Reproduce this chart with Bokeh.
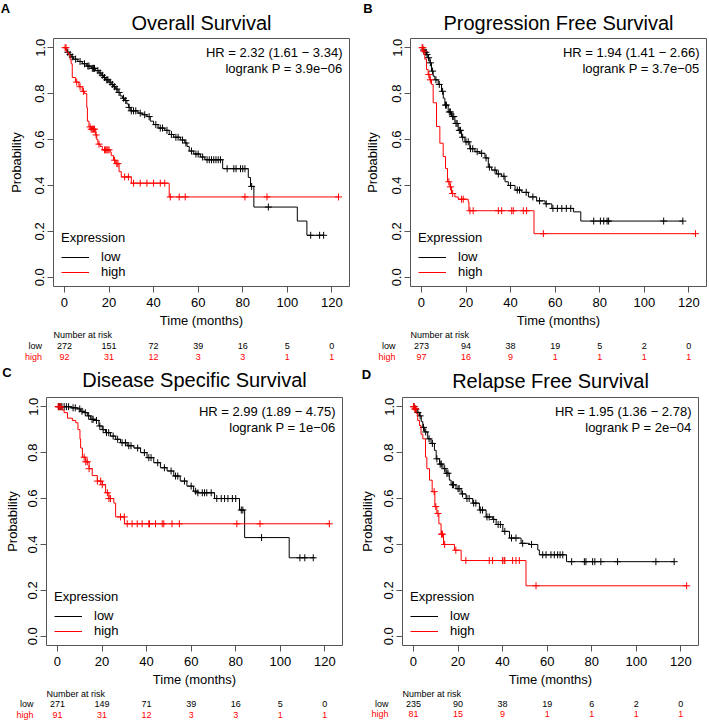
import numpy as np
from bokeh.plotting import figure
from bokeh.layouts import row, column
from bokeh.core.properties import value
from bokeh.models import (Range1d, FixedTicker, NumeralTickFormatter, Label, Legend, LegendItem)
from bokeh.embed import file_html
from bokeh.resources import INLINE

try:
    from bokeh.models import GlobalInlineStyleSheet
    PAGE_CSS = [GlobalInlineStyleSheet(css="body { margin: 0 !important; }")]
except Exception:
    PAGE_CSS = []

# ---------------- data ----------------
MONTH_TICKS = [0, 20, 40, 60, 80, 100, 120]
PROB_TICKS = [0.0, 0.2, 0.4, 0.6, 0.8, 1.0]

# A: Overall Survival
os_low_t = [0, 0.5, 1.2, 2, 3, 4, 6, 8, 10, 12, 14, 15.5, 16.5, 17.5, 18.5, 20, 21, 22, 23, 24, 25, 26, 27, 28,
            28.8, 29.5, 33, 35, 37, 38.5, 40, 42, 45, 47, 49, 52, 54, 55, 56, 58, 61, 63, 71, 82.5, 83.5, 85,
            104.5, 108.8]
os_low_s = [1.0, 0.99, 0.98, 0.97, 0.96, 0.95, 0.94, 0.93, 0.92, 0.91, 0.90, 0.89, 0.88, 0.87, 0.86, 0.85, 0.84,
            0.83, 0.82, 0.805, 0.79, 0.78, 0.77, 0.755, 0.74, 0.725, 0.715, 0.708, 0.70, 0.68, 0.665, 0.65, 0.64,
            0.622, 0.61, 0.598, 0.585, 0.57, 0.55, 0.537, 0.524, 0.512, 0.473, 0.435, 0.396, 0.306, 0.245, 0.183]
os_low_end = 116.3
os_low_cens = [1.5, 2.5, 3.5, 5, 7, 9, 10.5, 11, 12.5, 13, 13.5, 15, 16, 17, 18, 19, 19.5, 20.5, 21.5, 22.5, 23.5,
               24.5, 26.5, 27.5, 29, 30, 31, 32, 34, 36, 38, 41, 43, 44, 46, 48, 50, 51, 53, 54.5, 57, 59, 60, 62,
               64, 65, 66, 67, 68, 69, 70, 73, 76, 77, 79, 80, 81, 84, 91.5, 110.5, 114.5, 116.3]
os_high_t = [0, 1, 1.8, 2.5, 3, 3.5, 5, 6.5, 8, 9, 10, 10.3, 11, 12, 14, 14.5, 15, 16, 17, 20.5, 21, 22, 23, 24.5,
             25.5, 30, 47]
os_high_s = [1.0, 0.98, 0.97, 0.95, 0.93, 0.87, 0.85, 0.83, 0.81, 0.80, 0.74, 0.68, 0.655, 0.645, 0.62, 0.60, 0.58,
             0.57, 0.555, 0.545, 0.53, 0.51, 0.495, 0.46, 0.437, 0.41, 0.35]
os_high_end = 123
os_high_cens = [0.3, 0.7, 5.5, 7, 8.5, 11.5, 12, 12.5, 13, 13.5, 14.2, 15.5, 18, 18.5, 19, 19.5, 20, 22.5, 23.5, 24,
                27, 28.7, 31, 34, 37, 40, 43, 45, 47.5, 51.5, 54.2, 81, 90.9, 123]
os_risk_low = [272, 151, 72, 39, 16, 5, 0]
os_risk_high = [92, 31, 12, 3, 3, 1, 1]
os_hr = ["HR = 2.32 (1.61 \u2212 3.34)", "logrank P = 3.9e\u221206"]

# B: Progression Free Survival
pfs_low_t = [0, 0.75, 1.5, 2.2, 3, 3.75, 4.5, 5.25, 6, 7.5, 9, 9.8, 10.5, 12, 13.5, 15, 16.5, 18, 19.5, 21.7, 24,
             26.2, 28.5, 30, 31.5, 33.7, 36, 37.5, 39, 42, 45, 48, 51.7, 55.5, 58.5, 68.2, 71.5]
pfs_low_s = [1.0, 0.99, 0.98, 0.97, 0.956, 0.934, 0.898, 0.876, 0.86, 0.84, 0.81, 0.78, 0.75, 0.72, 0.70, 0.67,
             0.64, 0.61, 0.59, 0.56, 0.547, 0.54, 0.52, 0.48, 0.467, 0.45, 0.44, 0.416, 0.40, 0.38, 0.37, 0.35,
             0.333, 0.32, 0.30, 0.285, 0.245]
pfs_low_end = 117.3
pfs_low_cens = [1, 2, 2.5, 3.2, 4, 5, 6.5, 8, 9.5, 10.8, 11.2, 12.5, 13, 14, 14.5, 15.5, 16, 17, 17.5, 18.5, 20, 21,
                22, 23, 25, 27, 29, 30.5, 33, 34.5, 37, 40, 43, 44, 47, 50, 53, 56, 59, 61, 63, 65, 67, 77.3, 80.3,
                81.8, 83.3, 84, 108.7, 117.3]
pfs_high_t = [0, 0.75, 1.5, 2.25, 3, 3.75, 4.5, 5.25, 6.75, 8.25, 9.75, 10.8, 11.7, 12.75, 13.5, 15, 16.5, 21, 21.3,
              50.5]
pfs_high_s = [1.0, 0.985, 0.95, 0.905, 0.883, 0.86, 0.84, 0.76, 0.657, 0.584, 0.526, 0.474, 0.416, 0.394, 0.365,
              0.35, 0.34, 0.328, 0.29, 0.19]
pfs_high_end = 123
pfs_high_cens = [0.3, 0.6, 1, 3.3, 4, 12.3, 13, 14, 18, 18.75, 21.75, 23.2, 34.5, 36, 40.5, 41.2, 45.7, 47.2, 54.7,
                 123]
pfs_risk_low = [273, 94, 38, 19, 5, 2, 0]
pfs_risk_high = [97, 16, 9, 1, 1, 1, 1]
pfs_hr = ["HR = 1.94 (1.41 \u2212 2.66)", "logrank P = 3.7e\u221205"]

# C: Disease Specific Survival
dss_low_t = [0, 6, 9, 10.4, 11.9, 13.4, 14.9, 17.1, 18.6, 20.1, 21.6, 23.8, 26.1, 28.3, 31.3, 34.3, 37.3, 40.2, 43.2,
             46.2, 49.2, 52.2, 55.1, 58.1, 61.1, 62.6, 70.5, 81.7, 84, 104]
dss_low_s = [1.0, 0.995, 0.99, 0.98, 0.974, 0.96, 0.945, 0.94, 0.916, 0.90, 0.887, 0.872, 0.858, 0.843, 0.83, 0.82,
             0.80, 0.778, 0.756, 0.734, 0.72, 0.698, 0.676, 0.654, 0.632, 0.625, 0.60, 0.55, 0.43, 0.342]
dss_low_end = 115.5
dss_low_cens = [0.5, 1, 1.5, 2, 3, 4, 5, 7, 8, 10, 11, 12.5, 14, 15.5, 16, 17.5, 19, 20.5, 22, 23, 25, 27, 29, 30.5,
                32, 33, 36, 39, 41, 42, 45, 48, 51, 53, 54, 57, 60, 62, 63, 65, 66, 67, 69, 71.5, 73.5, 75, 76.5,
                78.5, 80, 82.5, 83.2, 91.6, 108.8, 111, 114.8]
dss_high_t = [0, 2.2, 3, 4.5, 6.7, 8.2, 9.2, 10.1, 10.4, 11.2, 12.7, 14.2, 15.6, 17.9, 20.1, 21.6, 23.1, 25.3, 26.1,
              30.1]
dss_high_s = [1.0, 0.985, 0.974, 0.95, 0.94, 0.93, 0.90, 0.86, 0.82, 0.78, 0.76, 0.73, 0.70, 0.676, 0.66, 0.625,
              0.60, 0.58, 0.52, 0.49]
dss_high_end = 122
dss_high_cens = [0.3, 0.8, 1.5, 12, 12.7, 13.4, 14.2, 17.9, 19.4, 20.1, 22.4, 23.1, 23.8, 28.3, 30, 31.3, 33.5, 35.8,
                 38, 41, 41.3, 44, 47, 47.7, 51.4, 54.7, 80.5, 90.9, 122]
dss_risk_low = [271, 149, 71, 39, 16, 5, 0]
dss_risk_high = [91, 31, 12, 3, 3, 1, 1]
dss_hr = ["HR = 2.99 (1.89 \u2212 4.75)", "logrank P = 1e\u221206"]

# D: Relapse Free Survival
rfs_low_t = [0, 0.5, 1.5, 2.7, 3.5, 4.2, 4.9, 6.4, 7.9, 9.4, 10.2, 11.7, 13.2, 14.6, 16.1, 16.9, 19.1, 21.4, 23.6,
             26.6, 29.6, 32.6, 35.6, 37.1, 40.1, 43.1, 48.3, 52, 55.8, 56.5, 68.7]
rfs_low_s = [1.0, 0.99, 0.975, 0.96, 0.935, 0.91, 0.89, 0.86, 0.84, 0.81, 0.773, 0.75, 0.73, 0.71, 0.68, 0.66,
             0.643, 0.62, 0.60, 0.58, 0.55, 0.52, 0.509, 0.487, 0.457, 0.428, 0.405, 0.40, 0.376, 0.355, 0.325]
rfs_low_end = 117
rfs_low_cens = [0.3, 1, 2, 3, 4.5, 5.5, 7, 8.5, 10.5, 12, 12.5, 14, 15, 15.5, 17.5, 18, 20, 20.5, 22, 24, 25, 27, 28,
                30, 31, 33, 34, 36, 38, 39, 41, 44, 46, 49, 53, 58, 59.5, 61.7, 63.2, 64.7, 65.8, 67, 71, 76.7, 77.4,
                80.4, 81.4, 84.1, 91.6, 108.8, 117]
rfs_high_t = [0, 0.5, 1.2, 1.9, 2.7, 3.4, 4.2, 5.4, 6, 7.2, 8.4, 9.6, 10.5, 11.4, 12.4, 13.5, 18.4, 21.4, 50.5]
rfs_high_s = [1.0, 0.99, 0.97, 0.94, 0.918, 0.88, 0.86, 0.78, 0.73, 0.68, 0.63, 0.565, 0.535, 0.49, 0.445, 0.40,
              0.375, 0.33, 0.22]
rfs_high_end = 122.6
rfs_high_cens = [0, 0.3, 0.6, 1, 9.3, 10, 11, 12.6, 13, 14, 19, 23.5, 34, 35.5, 40, 40.7, 41, 44.5, 46, 47.5, 55,
                 122.6]
rfs_risk_low = [235, 90, 38, 19, 6, 2, 0]
rfs_risk_high = [81, 15, 9, 1, 1, 1, 1]
rfs_hr = ["HR = 1.95 (1.36 \u2212 2.78)", "logrank P = 2e\u221204"]

# ---------------- layout / style ----------------
FONT = "Liberation Sans"
RED = "#FF0000"
BLACK = "#000000"
BOX = "#555555"
X0, X1 = -4.92, 127.92
Y0, Y1 = -0.04, 1.04
FW, FH = 296, 248
PPX = FW / (X1 - X0)
PPY = FH / (Y1 - Y0)
BOTTOM = 43


def surv_at(ts, ss, t):
    idx = np.searchsorted(np.asarray(ts), np.asarray(t), side="right") - 1
    return np.asarray(ss)[idx]


def blank(height_px, bl, br):
    """strip whose x scale matches the main plot (frame spans the whole strip), y in px from the top"""
    f = figure(frame_width=bl + FW + br, frame_height=height_px,
               x_range=Range1d(X0 - bl / PPX, X1 + br / PPX), y_range=Range1d(height_px, 0),
               output_backend="svg", toolbar_location=None, x_axis_location=None, y_axis_location=None,
               min_border_left=0, min_border_right=0, min_border_top=0, min_border_bottom=0)
    f.grid.visible = False
    f.outline_line_color = None
    f.background_fill_color = "white"
    f.border_fill_color = "white"
    return f


def header(title, letter, bl, br, height, letter_xy, title_mid):
    h = blank(height, bl, br)
    lx, ly = letter_xy
    h.text(x=[X0 - bl / PPX + lx / PPX], y=[ly], text=[letter], text_align="center",
           text_baseline="middle", text_font=value(FONT), text_font_size="13px",
           text_font_style="bold", text_color="black")
    h.text(x=[(X0 + X1) / 2], y=[title_mid], text=[title], text_align="center",
           text_baseline="middle", text_font=value(FONT), text_font_size="20px", text_color="black")
    return h


def km_plot(low, high, hr, bl, br, ylab_gap):
    p = figure(frame_width=FW, frame_height=FH, x_range=Range1d(X0, X1), y_range=Range1d(Y0, Y1),
               output_backend="svg", toolbar_location=None,
               min_border_left=bl, min_border_right=br, min_border_top=1, min_border_bottom=BOTTOM,
               x_axis_label="Time (months)", y_axis_label="Probability")
    p.grid.visible = False
    p.background_fill_color = "white"
    p.border_fill_color = "white"
    p.outline_line_color = BOX
    p.outline_line_width = 1

    p.xaxis.ticker = FixedTicker(ticks=MONTH_TICKS)
    p.yaxis.ticker = FixedTicker(ticks=PROB_TICKS)
    p.yaxis.formatter = NumeralTickFormatter(format="0.0")
    p.yaxis.major_label_orientation = "vertical"
    for ax in (p.xaxis, p.yaxis):
        ax.axis_line_color = None
        ax.major_tick_in = 0
        ax.major_tick_out = 6
        ax.major_tick_line_color = BOX
        ax.minor_tick_line_color = None
        ax.major_label_text_font = FONT
        ax.major_label_text_font_size = "13px"
        ax.major_label_text_color = "black"
        ax.axis_label_text_font = FONT
        ax.axis_label_text_font_size = "13px"
        ax.axis_label_text_font_style = "normal"
        ax.axis_label_text_color = "black"
    p.xaxis.major_label_standoff = 5
    p.yaxis.major_label_standoff = 3
    p.xaxis.axis_label_standoff = 3
    p.yaxis.axis_label_standoff = ylab_gap

    rends = []
    for (ts, ss, tend, cens), col in ((low, BLACK), (high, RED)):
        xs = list(ts) + [tend]
        ys = list(ss) + [ss[-1]]
        r = p.step(xs, ys, mode="after", line_color=col, line_width=1)
        p.scatter(cens, surv_at(ts, ss, cens), marker="cross", size=7, line_color=col, line_width=1)
        rends.append(r)

    leg = Legend(items=[LegendItem(label="low", renderers=[rends[0]]),
                        LegendItem(label="high", renderers=[rends[1]])],
                 title="Expression", location=(8, 7), margin=0, padding=0, spacing=0,
                 glyph_width=28, glyph_height=14, label_height=14, label_standoff=12,
                 title_standoff=4, border_line_color=None, background_fill_alpha=0,
                 label_text_font=FONT, label_text_font_size="13px", label_text_color="black",
                 title_text_font=FONT, title_text_font_size="13px", title_text_font_style="normal",
                 title_text_color="black")
    p.add_layout(leg)

    for i, line in enumerate(hr):
        p.add_layout(Label(x=X1 - 7 / PPX, y=Y1 - (14 + 16 * i) / PPY, text=line, text_align="right",
                           text_baseline="middle", text_font=FONT, text_font_size="13px", text_color="black"))
    return p


def risk_table(risk_low, risk_high, bl, br, height, top, step, lab_dx):
    t = blank(height, bl, br)
    t.text(x=[X0], y=[top], text=["Number at risk"], text_align="left", text_baseline="middle",
           text_font=value(FONT), text_font_size="9px", text_color="black")
    for k, (lab, vals, col) in enumerate((("low", risk_low, BLACK), ("high", risk_high, RED))):
        yy = top + step * (k + 1)
        t.text(x=[X0 - lab_dx / PPX], y=[yy], text=[lab], text_align="right", text_baseline="middle",
               text_font=value(FONT), text_font_size="9px", text_color=col)
        t.text(x=MONTH_TICKS, y=[yy] * len(MONTH_TICKS), text=[str(v) for v in vals], text_align="center",
               text_baseline="middle", text_font=value(FONT), text_font_size="9px", text_color=col)
    return t


# borders (left, right) of each panel
GA, GB, GC, GD = (53, 6), (55, 3), (46, 13), (47, 11)

hA = header("Overall Survival", "A", *GA, 37, (5, 7.5), 22.5)
hB = header("Progression Free Survival", "B", *GB, 37, (12.5, 7.5), 22.5)
pA = km_plot((os_low_t, os_low_s, os_low_end, os_low_cens), (os_high_t, os_high_s, os_high_end, os_high_cens),
             os_hr, *GA, 9)
pB = km_plot((pfs_low_t, pfs_low_s, pfs_low_end, pfs_low_cens),
             (pfs_high_t, pfs_high_s, pfs_high_end, pfs_high_cens), pfs_hr, *GB, 10)
tA = risk_table(os_risk_low, os_risk_high, *GA, 33, 4, 11, 11.5)
tB = risk_table(pfs_risk_low, pfs_risk_high, *GB, 33, 4, 11, 15)

hC = header("Disease Specific Survival", "C", *GC, 33, (6.5, 9), 16.5)
hD = header("Relapse Free Survival", "D", *GD, 33, (11, 11), 17)
pC = km_plot((dss_low_t, dss_low_s, dss_low_end, dss_low_cens),
             (dss_high_t, dss_high_s, dss_high_end, dss_high_cens), dss_hr, *GC, 6)
pD = km_plot((rfs_low_t, rfs_low_s, rfs_low_end, rfs_low_cens),
             (rfs_high_t, rfs_high_s, rfs_high_end, rfs_high_cens), rfs_hr, *GD, 7)
tC = risk_table(dss_risk_low, dss_risk_high, *GC, 34, 4, 10.5, 13)
tD = risk_table(rfs_risk_low, rfs_risk_high, *GD, 34, 4, 10, 14)

layout = column(row(hA, hB), row(pA, pB), row(tA, tB),
                row(hC, hD), row(pC, pD), row(tC, tD), stylesheets=PAGE_CSS)
p = layout

open("out.html", "w").write(file_html(p, INLINE))
